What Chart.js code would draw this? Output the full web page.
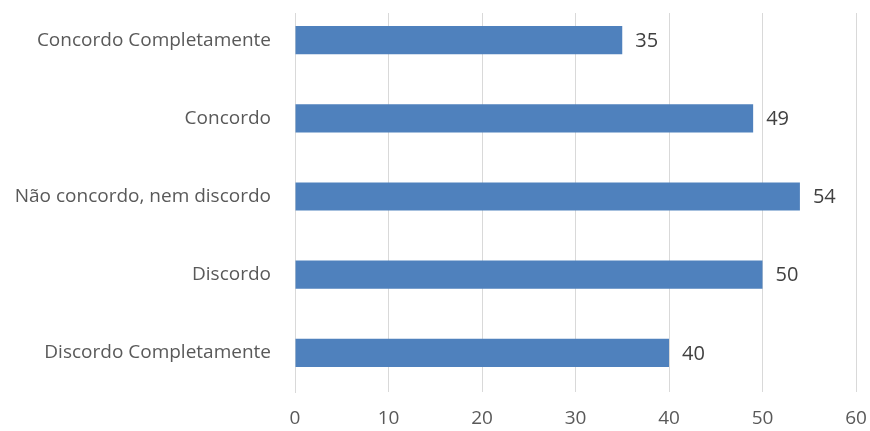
<!DOCTYPE html>
<html>
<head>
<meta charset="utf-8">
<script src="https://cdn.jsdelivr.net/npm/chart.js@4/dist/chart.umd.min.js"></script>
<style>
  html, body { margin: 0; padding: 0; background: #fff; }
  #wrap { width: 870px; height: 431px; }
</style>
</head>
<body>
<div id="wrap"><canvas id="chart" width="870" height="431"></canvas></div>
<script>
const categories = ['Concordo Completamente', 'Concordo', 'Não concordo, nem discordo', 'Discordo', 'Discordo Completamente'];
const values = [35, 49, 54, 50, 40];
const xTicks = [0, 10, 20, 30, 40, 50, 60];

const fontFamily = '"Open Sans", "Noto Sans", sans-serif';

// gridlines in the original start a little below the top of the plot
const trimGridTop = {
    id: 'trimGridTop',
    beforeDatasetsDraw(chart) {
        const a = chart.chartArea;
        const ctx = chart.ctx;
        ctx.save();
        ctx.fillStyle = '#ffffff';
        ctx.fillRect(a.left - 2, 0, a.right - a.left + 4, a.top + 12);
        ctx.restore();
    }
};

// value labels drawn just right of each bar end
const barLabels = {
    id: 'barLabels',
    afterDatasetsDraw(chart) {
        const ctx = chart.ctx;
        const meta = chart.getDatasetMeta(0);
        ctx.save();
        ctx.font = '20px ' + fontFamily;
        ctx.fillStyle = '#404040';
        ctx.textAlign = 'left';
        ctx.textBaseline = 'middle';
        meta.data.forEach((bar, i) => {
            ctx.fillText(String(values[i]), bar.x + 13, bar.y + 1);
        });
        ctx.restore();
    }
};

const ctx = document.getElementById('chart').getContext('2d');
const chart = new Chart(ctx, {
    type: 'bar',
    data: {
        labels: categories,
        datasets: [{
            data: values,
            backgroundColor: '#4f81bd',
            borderWidth: 0,
            barPercentage: 0.9,
            categoryPercentage: 0.4
        }]
    },
    options: {
        indexAxis: 'y',
        responsive: false,
        animation: false,
        layout: { autoPadding: false, padding: { top: 1, right: 14, left: 0, bottom: 0 } },
        plugins: {
            legend: { display: false },
            tooltip: { enabled: false }
        },
        scales: {
            x: {
                min: 0,
                max: 60,
                afterBuildTicks: (scale) => { scale.ticks = xTicks.map(v => ({ value: v })); },
                afterFit: (scale) => {
                    scale.height = 39;
                    scale.paddingLeft = 0;
                    scale.paddingRight = 0;
                },
                grid: { color: '#d9d9d9', drawTicks: false, lineWidth: 1 },
                border: { display: false },
                ticks: {
                    color: '#595959',
                    font: { family: fontFamily, size: 19 },
                    padding: 15,
                    maxRotation: 0
                }
            },
            y: {
                afterFit: (scale) => {
                    scale.width = 295;
                    scale.paddingTop = 0;
                    scale.paddingBottom = 0;
                },
                grid: { display: false, drawTicks: false },
                border: { display: true, color: '#d9d9d9' },
                ticks: {
                    color: '#595959',
                    font: { family: fontFamily, size: 19 },
                    padding: 24
                }
            }
        }
    },
    plugins: [trimGridTop, barLabels]
});
</script>
</body>
</html>
